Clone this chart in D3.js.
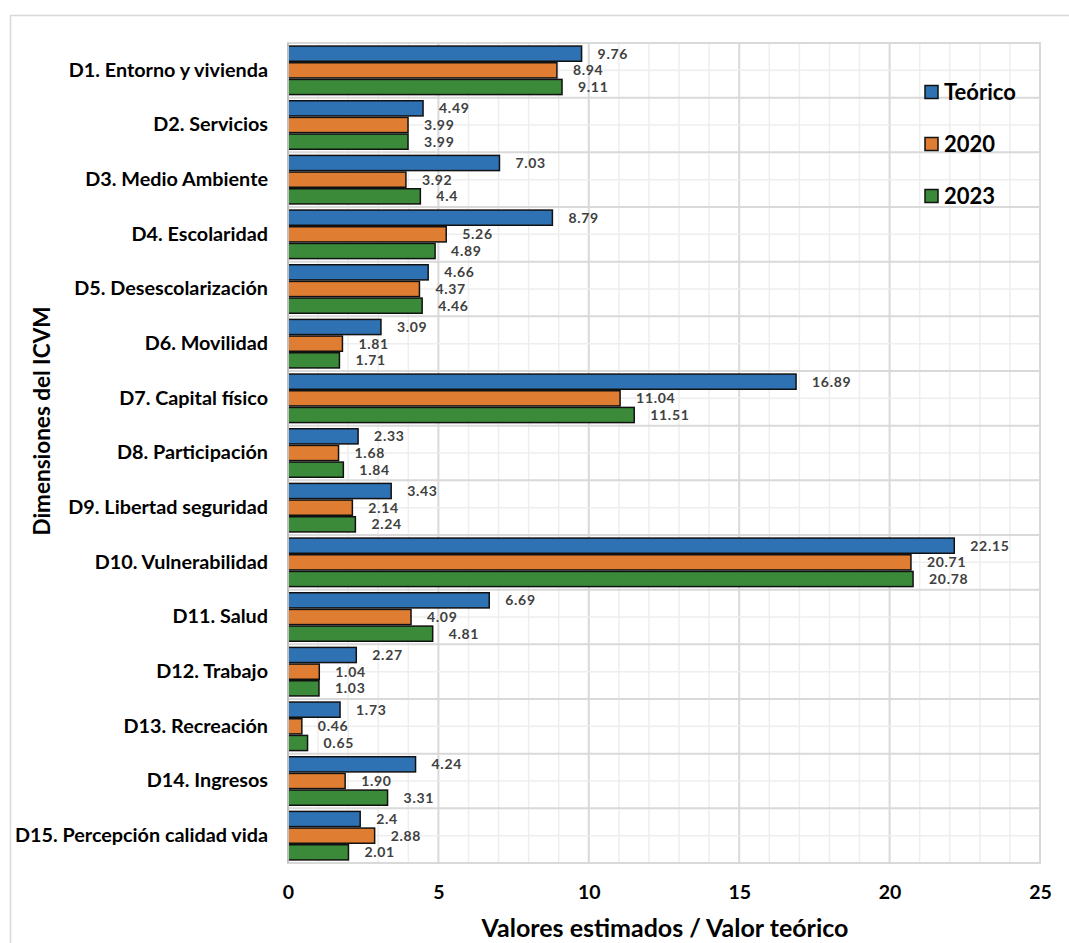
<!DOCTYPE html>
<html><head><meta charset="utf-8">
<script src="https://cdn.jsdelivr.net/npm/d3@7"></script>
<style>
html,body{margin:0;padding:0;background:#fff;}
svg{display:block;font-family:Lato,"Open Sans",sans-serif;font-weight:bold;}
</style></head>
<body><svg id="chart" width="1069" height="943"></svg>
<script>
const categories = ["D1. Entorno y vivienda","D2. Servicios","D3. Medio Ambiente","D4. Escolaridad","D5. Desescolarización","D6. Movilidad","D7. Capital físico","D8. Participación","D9. Libertad seguridad","D10. Vulnerabilidad","D11. Salud","D12. Trabajo","D13. Recreación","D14. Ingresos","D15. Percepción calidad vida"];
const seriesNames = ["Teórico","2020","2023"];
const teorico = ["9.76","4.49","7.03","8.79","4.66","3.09","16.89","2.33","3.43","22.15","6.69","2.27","1.73","4.24","2.4"];
const v2020 = ["8.94","3.99","3.92","5.26","4.37","1.81","11.04","1.68","2.14","20.71","4.09","1.04","0.46","1.90","2.88"];
const v2023 = ["9.11","3.99","4.4","4.89","4.46","1.71","11.51","1.84","2.24","20.78","4.81","1.03","0.65","3.31","2.01"];
const xTicks = [0,5,10,15,20,25];
const colors = ["#2E72B4","#DF7E32","#3A8A3A"];
const xTitle = "Valores estimados / Valor teórico";
const yTitle = "Dimensiones del ICVM";

const svg = d3.select("#chart");
const L = 288, R = 1040, T = 43, B = 863;

svg.append("rect").attr("x",10.5).attr("y",15.5).attr("width",1080).attr("height",1000)
  .attr("fill","none").attr("stroke","#d9d9d9").attr("stroke-width",1.5);

const x = d3.scaleLinear().domain([0,25]).range([L,R]);
const y = d3.scaleBand().domain(categories).range([T,B]).paddingInner(0.085).paddingOuter(0.0425);
const ys = d3.scaleBand().domain(seriesNames).range([0,y.bandwidth()]);
const yb = d3.scaleBand().domain(categories).range([T,B]);

const g = svg.append("g");
g.selectAll(".vmin").data(d3.range(0,26)).join("line")
  .attr("x1",d=>x(d)).attr("x2",d=>x(d)).attr("y1",T).attr("y2",B)
  .attr("stroke",d=>d%5===0?"#d9d9d9":"#eeeeee").attr("stroke-width",d=>d%5===0?2:1.5);
g.selectAll(".hmin").data(categories).join("line")
  .attr("x1",L).attr("x2",R).attr("y1",d=>yb(d)+yb.bandwidth()/2).attr("y2",d=>yb(d)+yb.bandwidth()/2)
  .attr("stroke","#eeeeee").attr("stroke-width",1.5);
g.selectAll(".hmaj").data(d3.range(0,categories.length+1)).join("line")
  .attr("x1",L).attr("x2",R).attr("y1",d=>T+d*yb.bandwidth()).attr("y2",d=>T+d*yb.bandwidth())
  .attr("stroke","#d9d9d9").attr("stroke-width",2);
g.append("rect").attr("x",L).attr("y",T).attr("width",R-L).attr("height",B-T)
  .attr("fill","none").attr("stroke","#d9d9d9").attr("stroke-width",2);

const seriesData = [teorico,v2020,v2023];
seriesData.forEach((vals,si)=>{
  const name = seriesNames[si];
  const sg = svg.append("g");
  const rows = vals.map((v,i)=>({c:categories[i],v:+v,t:v}));
  sg.selectAll("rect").data(rows).join("rect")
    .attr("x",x(0)).attr("y",d=>y(d.c)+ys(name)+0.75)
    .attr("width",d=>x(d.v)-x(0)).attr("height",ys.bandwidth()-1.5)
    .attr("fill",colors[si]).attr("stroke","#111").attr("stroke-width",1.5);
  sg.selectAll("text").data(rows).join("text")
    .attr("x",d=>x(d.v)+16).attr("y",d=>y(d.c)+ys(name)+ys.bandwidth()/2)
    .attr("dy","0.36em").attr("fill","#404040").attr("font-size",14).attr("letter-spacing",0.7).text(d=>d.t);
});

const yAxis = d3.axisLeft(yb).tickSize(0).tickPadding(20);
const ya = svg.append("g").attr("transform",`translate(${L},0)`).call(yAxis);
ya.select(".domain").remove();
ya.selectAll("text").attr("font-size",19.8).attr("fill","#000").attr("font-family","Lato").attr("font-weight","bold");
svg.append("line").attr("x1",L).attr("x2",L).attr("y1",T).attr("y2",B).attr("stroke","#bfbfbf").attr("stroke-width",2);

const xAxis = d3.axisBottom(x).tickValues(xTicks).tickSize(0).tickPadding(22);
const xa = svg.append("g").attr("transform",`translate(0,${B})`).call(xAxis);
xa.select(".domain").remove();
xa.selectAll("text").attr("font-size",19.5).attr("fill","#000").attr("font-family","Lato").attr("font-weight","bold");

svg.append("text").attr("x",665).attr("y",937).attr("text-anchor","middle").attr("font-size",25).text(xTitle);
svg.append("text").attr("transform","translate(50,421) rotate(-90)").attr("text-anchor","middle").attr("font-size",22.5).text(yTitle);

const leg = svg.append("g");
seriesNames.forEach((n,i)=>{
  const cy = 92 + i*52;
  leg.append("rect").attr("x",925).attr("y",cy-6.5).attr("width",13).attr("height",13)
    .attr("fill",colors[i]).attr("stroke","#111").attr("stroke-width",1.5);
  leg.append("text").attr("x",944).attr("y",cy).attr("dy","0.36em").attr("font-size",22).text(n);
});
</script></body></html>
